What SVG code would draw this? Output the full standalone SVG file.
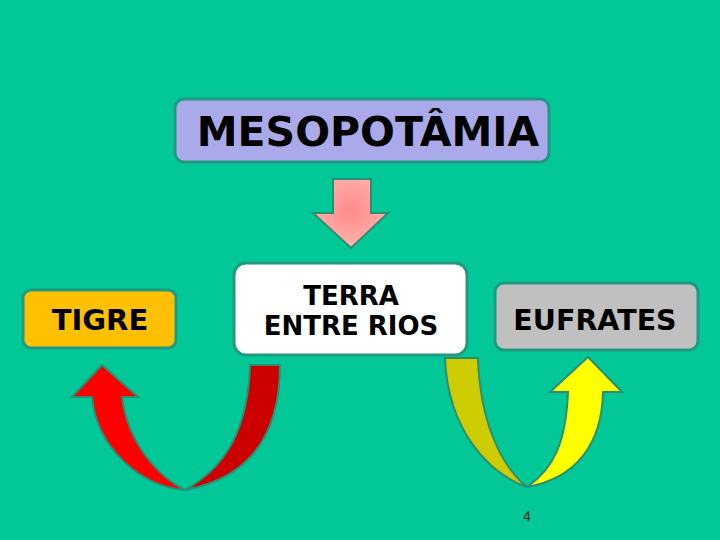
<svg xmlns="http://www.w3.org/2000/svg" width="720" height="540" viewBox="0 0 720 540">
<defs>
<radialGradient id="pink" cx="0.5" cy="0.45" r="0.6">
<stop offset="0" stop-color="#FF8A8A"/>
<stop offset="1" stop-color="#FFB6B0"/>
</radialGradient>
<style>
.box{stroke:#1F9A80;stroke-width:3}
.lbl{font-family:"DejaVu Sans",Verdana,sans-serif;font-weight:bold;fill:#000;text-anchor:middle}
.arr{stroke:#2A8F72;stroke-width:2;stroke-linejoin:miter}
</style>
</defs>
<rect width="720" height="540" fill="#02C898"/>
<g id="mesopotamia">
<rect class="box" x="175" y="99" width="374" height="63" rx="9" fill="#AAAAEA"/>
<text class="lbl" x="368" y="146" font-size="41">MESOPOTÂMIA</text>
</g>
<g id="connectors">
<path class="arr" d="M333,179 L371,179 L371,213 L388,213 L351,248 L313,213 L333,213 Z" fill="url(#pink)"/>
<path class="arr" d="M72,397 L102,365 L138,397 L122,397 C128,445 160,478 185,490 C140,486 97,448 92,397 Z" fill="#FF0000"/>
<path class="arr" d="M250,365 L280,365 C280,435 250,478 185,490 C225,468 248,430 250,365 Z" fill="#CC0000"/>
<path class="arr" d="M445,358 L478,358 C480,420 500,465 527,487 C490,474 448,432 445,358 Z" fill="#CCCC00"/>
<path class="arr" d="M550,392 L588,357 L622,392 L603,392 C602,442 578,478 527,487 C555,468 566,440 568,392 Z" fill="#FFFF00"/>
</g>
<g id="tigre">
<rect class="box" x="23" y="290" width="153" height="58" rx="8" fill="#FFC000"/>
<text class="lbl" x="100" y="330" font-size="29">TIGRE</text>
</g>
<g id="terra">
<rect class="box" x="234" y="263" width="233" height="92" rx="12" fill="#FFFFFF"/>
<text class="lbl" x="351" y="305" font-size="26">TERRA</text>
<text class="lbl" x="351" y="335" font-size="26">ENTRE RIOS</text>
</g>
<g id="eufrates">
<rect class="box" x="495" y="283" width="203" height="67" rx="9" fill="#C0C0C0"/>
<text class="lbl" x="595" y="330" font-size="28.5">EUFRATES</text>
</g>
<text x="527" y="521" font-family="Liberation Sans,Arial,sans-serif" font-size="14" fill="#222" text-anchor="middle">4</text>
</svg>
